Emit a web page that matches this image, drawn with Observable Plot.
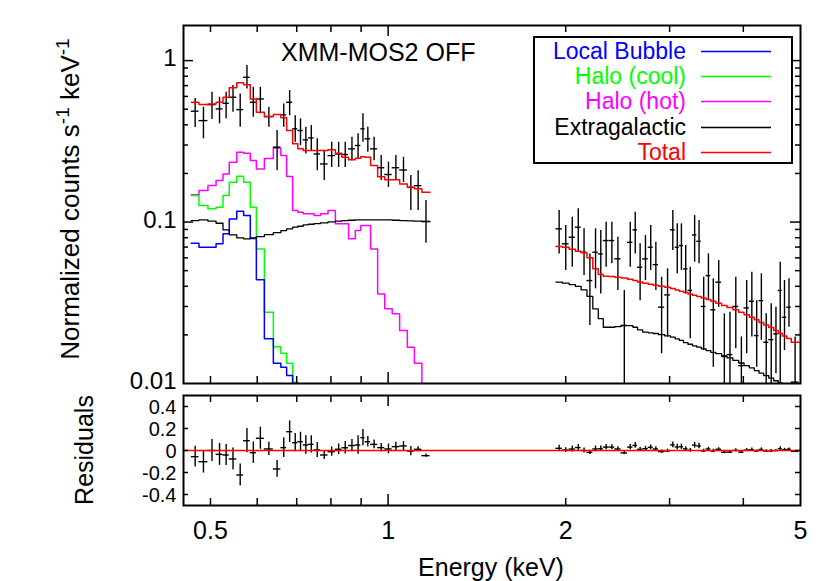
<!DOCTYPE html>
<html>
<head>
<meta charset="utf-8">
<script src="https://cdn.jsdelivr.net/npm/d3@7"></script>
<script src="https://cdn.jsdelivr.net/npm/@observablehq/plot@0.6"></script>
<style>
  body { margin: 0; background: #fff; }
  #wrap { position: relative; width: 830px; height: 581px; overflow: hidden; background: #fff;
          font-family: "Liberation Sans", Arial, Helvetica, sans-serif; color: #000; }
  #topPanel, #botPanel { position: absolute; left: 0; }
  #topPanel { top: 0; }
  #botPanel { top: 390px; }
  .lab { position: absolute; font-size: 25px; line-height: 25px; white-space: nowrap; }
  .rot { transform: translate(-50%, -50%) rotate(-90deg); }
  .ylab { font-size: 26px; line-height: 26px; }
  .sup { font-size: 19px; position: relative; top: -10px; }
  #legend { position: absolute; left: 533px; top: 36px; width: 256px; height: 124px;
            border: 2px solid #000; background: #fff; }
  #legend svg { position: absolute; left: 0; top: 0; overflow: visible; }
</style>
</head>
<body>
<div id="wrap">
  <div id="topPanel"></div>
  <div id="botPanel"></div>
  <div class="lab" style="left:281px; top:40px;">XMM-MOS2 OFF</div>
  <div class="lab rot ylab" style="left:71px; top:199px;">Normalized counts s<span class="sup">-1</span> keV<span class="sup">-1</span></div>
  <div class="lab rot" style="left:84px; top:450px;">Residuals</div>
  <div class="lab" style="left:491px; top:555px; transform: translateX(-50%);">Energy (keV)</div>
  <div id="legend"></div>
</div>
<script>
// ---------- data (energies in keV, rates in counts s^-1 keV^-1) ----------
const lowEdges = [0.464,0.478,0.495,0.511,0.525,0.538,0.554,0.569,0.584,0.598,0.617,0.639,0.658,0.673,0.689,0.703,0.718,0.733,0.749,0.768,0.791,0.814,0.835,0.857,0.880,0.899,0.914,0.934,0.960,0.987,1.016,1.046,1.078,1.108,1.141,1.178];
const lowCounts = [0.486,0.425,0.534,0.502,0.544,0.593,0.497,0.788,0.552,0.579,0.450,0.291,0.461,0.552,0.378,0.369,0.323,0.332,0.264,0.229,0.258,0.264,0.262,0.284,0.298,0.378,0.328,0.284,0.217,0.197,0.217,0.210,0.164,0.168,0.101];
const lowCountsHi = [0.582,0.514,0.636,0.593,0.636,0.700,0.622,0.931,0.683,0.683,0.514,0.369,0.539,0.652,0.456,0.436,0.386,0.396,0.328,0.277,0.312,0.312,0.312,0.335,0.352,0.468,0.386,0.335,0.258,0.235,0.258,0.252,0.194,0.208,0.136];
const lowCountsLo = [0.385,0.328,0.431,0.406,0.436,0.479,0.386,0.668,0.446,0.468,0.386,0.208,0.386,0.456,0.312,0.298,0.264,0.277,0.208,0.181,0.218,0.218,0.218,0.240,0.246,0.312,0.271,0.240,0.181,0.164,0.181,0.176,0.118,0.118,0.074];
const lowTotal = [0.552,0.534,0.539,0.552,0.593,0.678,0.728,0.710,0.579,0.479,0.450,0.463,0.442,0.369,0.305,0.284,0.277,0.277,0.277,0.277,0.280,0.267,0.252,0.243,0.248,0.254,0.252,0.224,0.191,0.183,0.183,0.172,0.164,0.161,0.153];
const lowExtragalactic = [0.1022,0.1032,0.1012,0.0983,0.0895,0.0833,0.0798,0.0787,0.0798,0.0813,0.0837,0.0861,0.0886,0.0908,0.0929,0.0942,0.0961,0.0969,0.0979,0.0989,0.1003,0.1012,0.1022,0.1026,0.1032,0.1032,0.1032,0.1032,0.1032,0.1032,0.1026,0.1022,0.1018,0.1012,0.1007];
const lowLocalBubble = [0.0739,0.0698,0.0698,0.0733,0.0845,0.1046,0.1166,0.1097,0.0790,0.0439,0.0189,0.01335,0.01262,0.01121,0.008];
const lowHaloCool = [0.1459,0.1265,0.1207,0.1235,0.1459,0.1764,0.1921,0.1764,0.1235,0.0682,0.0276,0.0169,0.0154,0.01335,0.01019,0.008];
const lowHaloHot = [0.1474,0.1567,0.1683,0.1807,0.1988,0.2346,0.2705,0.2667,0.2403,0.2135,0.2473,0.2880,0.2581,0.1913,0.1178,0.1150,0.1124,0.1124,0.1097,0.1124,0.1178,0.0975,0.0975,0.0787,0.0886,0.0951,0.0951,0.0682,0.0359,0.0290,0.0270,0.0213,0.0168,0.01335,0.008];
const lowResid = [-0.056,-0.102,0.0,-0.035,-0.041,-0.077,-0.223,0.089,-0.020,0.111,0.014,-0.168,0.026,0.171,0.071,0.080,0.050,0.056,0.005,-0.041,-0.011,0.011,0.025,0.045,0.050,0.117,0.080,0.056,0.026,0.014,0.035,0.041,-0.005,0.011,-0.047];
const lowResidErr = [0.094,0.103,0.100,0.100,0.095,0.100,0.100,0.110,0.097,0.100,0.060,0.076,0.090,0.098,0.083,0.086,0.083,0.079,0.068,0.041,0.042,0.048,0.056,0.056,0.083,0.073,0.048,0.040,0.038,0.045,0.041,0.041,0.042,0.023,0.015];

const highEdges = [1.925,1.974,2.027,2.077,2.124,2.173,2.223,2.271,2.316,2.368,2.422,2.482,2.546,2.600,2.647,2.701,2.760,2.814,2.873,2.943,3.010,3.066,3.116,3.167,3.223,3.280,3.336,3.395,3.459,3.523,3.593,3.675,3.754,3.840,3.929,4.011,4.095,4.176,4.253,4.331,4.417,4.504,4.583,4.657,4.738,4.823,4.97];
const highCounts = [0.0908,0.0733,0.0805,0.0929,0.0650,0.0434,0.0650,0.0635,0.0768,0.0768,0.0592,0.0229,0.0749,0.0895,0.0525,0.0592,0.0698,0.0545,0.0297,0.0354,0.0895,0.0698,0.0715,0.0513,0.0377,0.0833,0.0760,0.0300,0.0466,0.0286,0.0424,0.0147,0.0151,0.0300,0.0129,0.0294,0.0323,0.0198,0.0326,0.0180,0.0187,0.0203,0.0377,0.0257,0.0297,0.0102];
const highCountsHi = [0.1178,0.0951,0.1071,0.1207,0.0908,0.0635,0.0908,0.0886,0.0997,0.0997,0.0805,0.0377,0.0997,0.1150,0.0733,0.0825,0.0951,0.0749,0.0455,0.0513,0.1178,0.0975,0.0975,0.0715,0.0525,0.1097,0.1022,0.0455,0.0635,0.0445,0.0578,0.0270,0.0276,0.0455,0.0194,0.0434,0.0489,0.0326,0.0478,0.0270,0.0312,0.0297,0.0564,0.0434,0.0445,0.0194];
const highCountsLo = [0.0635,0.0501,0.0525,0.0650,0.0466,0.0229,0.0386,0.0359,0.0525,0.0551,0.0377,0.005,0.0525,0.0635,0.0326,0.0434,0.0501,0.0377,0.0153,0.0194,0.0666,0.0478,0.0501,0.0359,0.0189,0.0564,0.0551,0.0160,0.0326,0.0126,0.0297,0.005,0.005,0.0164,0.005,0.0153,0.0194,0.0126,0.0185,0.005,0.005,0.0115,0.005,0.0160,0.0223,0.005];
const highTotal = [0.0705,0.0698,0.0679,0.0659,0.0645,0.0600,0.0513,0.0473,0.0462,0.0460,0.0455,0.0451,0.0442,0.0434,0.0426,0.0418,0.0412,0.0406,0.0400,0.0395,0.0388,0.0380,0.0373,0.0366,0.0359,0.0352,0.0346,0.0339,0.0331,0.0323,0.0314,0.0304,0.0296,0.0286,0.0276,0.0267,0.0257,0.0248,0.0239,0.0230,0.0222,0.0213,0.0205,0.0197,0.0190,0.0180];
const highExtragalactic = [0.0424,0.0418,0.0410,0.0400,0.0380,0.0346,0.0290,0.0252,0.0223,0.0223,0.0225,0.0228,0.0228,0.0223,0.0215,0.0208,0.0206,0.0204,0.0201,0.0197,0.0194,0.0189,0.0185,0.0179,0.0175,0.0171,0.0168,0.0164,0.0160,0.0156,0.0153,0.0148,0.0144,0.0139,0.0134,0.0129,0.0125,0.0120,0.0116,0.0112,0.0108,0.0104,0.0101,0.0098,0.0095,0.0092];
const highResid = [0.020,0.004,0.013,0.027,0.000,-0.017,0.014,0.016,0.031,0.031,0.014,-0.022,0.031,0.046,0.010,0.017,0.029,0.014,-0.010,-0.004,0.051,0.032,0.034,0.015,0.002,0.048,0.041,-0.004,0.014,-0.004,0.011,-0.016,-0.015,0.001,-0.015,0.003,0.007,-0.005,0.009,-0.005,-0.004,-0.001,0.017,0.006,0.011,-0.008];
const highResidErr = [0.027,0.022,0.027,0.028,0.022,0.020,0.026,0.026,0.024,0.022,0.021,0.016,0.024,0.026,0.020,0.020,0.022,0.019,0.015,0.016,0.026,0.025,0.024,0.018,0.017,0.027,0.024,0.015,0.015,0.016,0.014,0.012,0.012,0.015,0.010,0.014,0.015,0.010,0.015,0.011,0.012,0.009,0.016,0.014,0.011,0.009];

const xTickLabels = [0.5, 1, 2, 5];
const xMinorTicks = [0.5, 0.6, 0.7, 0.8, 0.9, 2, 3, 4];
const xMajorTicks = [1];
const yTickLabels = [0.01, 0.1, 1];
const yMajorTicks = [0.1, 1];
const yMinorTicks = [0.02,0.03,0.04,0.05,0.06,0.07,0.08,0.09,0.2,0.3,0.4,0.5,0.6,0.7,0.8,0.9];
const residTicks = [-0.4, -0.2, 0, 0.2, 0.4];

const legendNames = ["Local Bubble", "Halo (cool)", "Halo (hot)", "Extragalactic", "Total"];
const legendColors = ["#0000ff", "#00ff00", "#ff00ff", "#000000", "#ff0000"];

// ---------- helpers ----------
function steps(edges, vals) {
  const p = vals.map((v, i) => ({x: edges[i], y: v}));
  p.push({x: edges[vals.length], y: vals[vals.length - 1]});
  return p;
}
function points(edges, vals, lo, hi) {
  return vals.map((v, i) => ({x1: edges[i], x2: edges[i + 1], xc: Math.sqrt(edges[i] * edges[i + 1]), y: v, lo: lo[i], hi: hi[i]}));
}
function resid(edges, vals, err) {
  return vals.map((v, i) => ({x1: edges[i], x2: edges[i + 1], xc: Math.sqrt(edges[i] * edges[i + 1]), y: v, lo: v - err[i], hi: v + err[i]}));
}

const W = 830, ML = 183, MR = 30;
const PW = W - ML - MR;
const font = "'Liberation Sans', Arial, Helvetica, sans-serif";

// ---------- top panel ----------
const TH = 400, TMT = 25, TMB = 17, PH = TH - TMT - TMB;
const ptsLow = points(lowEdges, lowCounts, lowCountsLo, lowCountsHi);
const ptsHigh = points(highEdges, highCounts, highCountsLo, highCountsHi);
const allPts = ptsLow.concat(ptsHigh);
const lw = 1.5;

const topChart = Plot.plot({
  width: W, height: TH, marginLeft: ML, marginRight: MR, marginTop: TMT, marginBottom: TMB,
  style: {background: "transparent", fontFamily: font, fontSize: "25px", color: "black", overflow: "visible"},
  x: {type: "log", domain: [0.45, 5], axis: null},
  y: {type: "log", domain: [0.01, 1.65]},
  marks: [
    Plot.axisY(yTickLabels, {tickSize: 0, tickPadding: 7, tickFormat: d => String(d), label: null, fontSize: 24, dy: -2}),
    Plot.line(steps(lowEdges, lowHaloHot), {x: "x", y: "y", curve: "step-after", stroke: legendColors[2], strokeWidth: lw, clip: true}),
    Plot.line(steps(lowEdges, lowHaloCool), {x: "x", y: "y", curve: "step-after", stroke: legendColors[1], strokeWidth: lw, clip: true}),
    Plot.line(steps(lowEdges, lowLocalBubble), {x: "x", y: "y", curve: "step-after", stroke: legendColors[0], strokeWidth: lw, clip: true}),
    Plot.line(steps(lowEdges, lowExtragalactic), {x: "x", y: "y", curve: "step-after", stroke: legendColors[3], strokeWidth: 1.3, clip: true}),
    Plot.line(steps(highEdges, highExtragalactic), {x: "x", y: "y", curve: "step-after", stroke: legendColors[3], strokeWidth: 1.3, clip: true}),
    Plot.ruleX(allPts, {x: "xc", y1: "lo", y2: "hi", stroke: "black", strokeWidth: 1.4, clip: true}),
    Plot.ruleY(allPts, {y: "y", x1: "x1", x2: "x2", stroke: "black", strokeWidth: 1.4, clip: true}),
    Plot.line(steps(lowEdges, lowTotal), {x: "x", y: "y", curve: "step-after", stroke: legendColors[4], strokeWidth: lw, clip: true}),
    Plot.line(steps(highEdges, highTotal), {x: "x", y: "y", curve: "step-after", stroke: legendColors[4], strokeWidth: lw, clip: true}),
    // inward ticks
    Plot.tickX(xMinorTicks, {x: d => d, insetTop: PH - 7, stroke: "black", strokeWidth: 1.5}),
    Plot.tickX(xMinorTicks, {x: d => d, insetBottom: PH - 7, stroke: "black", strokeWidth: 1.5}),
    Plot.tickX(xMajorTicks, {x: d => d, insetTop: PH - 11, stroke: "black", strokeWidth: 1.5}),
    Plot.tickX(xMajorTicks, {x: d => d, insetBottom: PH - 11, stroke: "black", strokeWidth: 1.5}),
    Plot.tickY(yMinorTicks, {y: d => d, insetRight: PW - 5, stroke: "black", strokeWidth: 1.5}),
    Plot.tickY(yMinorTicks, {y: d => d, insetLeft: PW - 5, stroke: "black", strokeWidth: 1.5}),
    Plot.tickY(yMajorTicks, {y: d => d, insetRight: PW - 10, stroke: "black", strokeWidth: 1.5}),
    Plot.tickY(yMajorTicks, {y: d => d, insetLeft: PW - 10, stroke: "black", strokeWidth: 1.5}),
    Plot.frame({stroke: "black", strokeWidth: 2})
  ]
});
document.getElementById("topPanel").appendChild(topChart);

// ---------- residual panel ----------
const BH = 191, BMT = 5, BMB = 76, RH = BH - BMT - BMB;
const resAll = resid(lowEdges, lowResid, lowResidErr).concat(resid(highEdges, highResid, highResidErr));
const botChart = Plot.plot({
  width: W, height: BH, marginLeft: ML, marginRight: MR, marginTop: BMT, marginBottom: BMB,
  style: {background: "transparent", fontFamily: font, fontSize: "25px", color: "black", overflow: "visible"},
  x: {type: "log", domain: [0.45, 5]},
  y: {domain: [-0.5, 0.5]},
  marks: [
    Plot.axisX(xTickLabels, {tickSize: 0, tickPadding: 16, tickFormat: d => String(d), label: null, fontSize: 25}),
    Plot.axisY(residTicks, {tickSize: 0, tickPadding: 7, tickFormat: d => String(d), label: null, fontSize: 20, dy: 1}),
    Plot.ruleX(resAll, {x: "xc", y1: "lo", y2: "hi", stroke: "black", strokeWidth: 1.4, clip: true}),
    Plot.ruleY(resAll, {y: "y", x1: "x1", x2: "x2", stroke: "black", strokeWidth: 1.4, clip: true}),
    Plot.ruleY([0], {stroke: "#ff0000", strokeWidth: 1.5}),
    Plot.tickX(xMinorTicks, {x: d => d, insetTop: RH - 7, stroke: "black", strokeWidth: 1.5}),
    Plot.tickX(xMinorTicks, {x: d => d, insetBottom: RH - 7, stroke: "black", strokeWidth: 1.5}),
    Plot.tickX(xMajorTicks, {x: d => d, insetTop: RH - 11, stroke: "black", strokeWidth: 1.5}),
    Plot.tickX(xMajorTicks, {x: d => d, insetBottom: RH - 11, stroke: "black", strokeWidth: 1.5}),
    Plot.tickY(residTicks, {y: d => d, insetRight: PW - 5, stroke: "black", strokeWidth: 1.5}),
    Plot.tickY(residTicks, {y: d => d, insetLeft: PW - 5, stroke: "black", strokeWidth: 1.5}),
    Plot.frame({stroke: "black", strokeWidth: 2})
  ]
});
document.getElementById("botPanel").appendChild(botChart);

// ---------- legend (SVG text + lines) ----------
const leg = document.getElementById("legend");
const NS = "http://www.w3.org/2000/svg";
const lsvg = document.createElementNS(NS, "svg");
lsvg.setAttribute("width", 256);
lsvg.setAttribute("height", 124);
legendNames.forEach((name, i) => {
  const cy = 13 + i * 25.2;
  const t = document.createElementNS(NS, "text");
  t.setAttribute("x", 151);
  t.setAttribute("y", cy);
  t.setAttribute("dy", "0.35em");
  t.setAttribute("text-anchor", "end");
  t.setAttribute("fill", legendColors[i]);
  t.setAttribute("font-size", 23);
  t.setAttribute("font-family", font);
  t.textContent = name;
  lsvg.appendChild(t);
  const ln = document.createElementNS(NS, "line");
  ln.setAttribute("x1", 166); ln.setAttribute("x2", 236);
  ln.setAttribute("y1", Math.round(cy) + 0.5); ln.setAttribute("y2", Math.round(cy) + 0.5);
  ln.setAttribute("stroke", legendColors[i]);
  ln.setAttribute("stroke-width", 1.4);
  lsvg.appendChild(ln);
});
leg.appendChild(lsvg);
</script>
</body>
</html>
